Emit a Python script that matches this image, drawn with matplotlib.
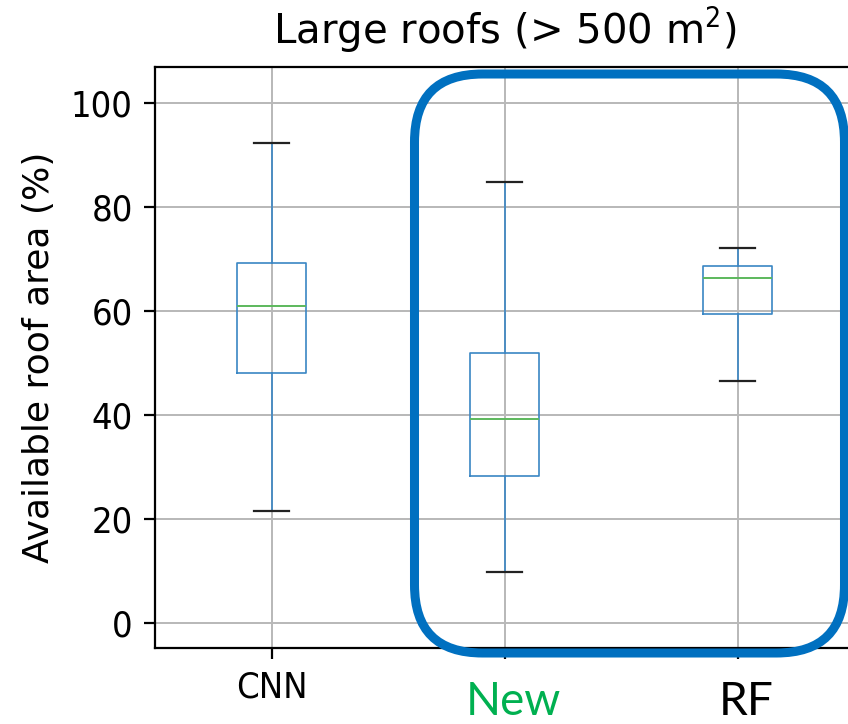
import matplotlib
matplotlib.use("Agg")
import matplotlib.pyplot as plt
from matplotlib.patches import FancyBboxPatch
from matplotlib.transforms import ScaledTranslation

# Box statistics for available roof area on large roofs (%)
categories = ["CNN", "New", "RF"]
whislo = [21.5, 9.8, 46.5]
q1 = [48.1, 28.3, 59.3]
med = [60.8, 39.2, 66.2]
q3 = [69.2, 51.9, 68.5]
whishi = [92.2, 84.8, 72.0]
yticks = [0, 20, 40, 60, 80, 100]

plt.rcParams["font.family"] = ["DejaVu Sans"]
plt.rcParams["font.stretch"] = "condensed"

fig = plt.figure(figsize=(8.48, 7.24), dpi=100)
ax = fig.add_axes([0.1828, 0.1046, 0.8243, 0.8033])

stats = [
    dict(label=c, whislo=lo, q1=a, med=m, q3=b, whishi=hi, fliers=[])
    for c, lo, a, m, b, hi in zip(categories, whislo, q1, med, q3, whishi)
]
ax.bxp(
    stats,
    positions=[1, 2, 3],
    widths=0.3,
    showfliers=False,
    boxprops=dict(color="#3a86c4", linewidth=1.2),
    whiskerprops=dict(color="#3a86c4", linewidth=1.2),
    capprops=dict(color="#222222", linewidth=1.6),
    medianprops=dict(color="#5cb85c", linewidth=1.4),
)

ax.set_xlim(0.5, 3.5)
ax.set_ylim(-4.9, 106.9)
ax.set_yticks(yticks)
ax.grid(True, color="#b8b8b8", linewidth=1.4)
ax.set_axisbelow(True)
for s in ax.spines.values():
    s.set_linewidth(1.6)
ax.tick_params(axis="both", labelsize=26, length=8, width=1.6, pad=8)

ax.set_xticks([1, 2, 3])
ax.set_xticklabels(categories)
labels = ax.get_xticklabels()
shift = ScaledTranslation(0.09, -0.11, fig.dpi_scale_trans)
for lab, col in zip(labels[1:], ["#00b050", "black"]):
    lab.set_color(col)
    lab.set_fontfamily("Lato")
    lab.set_fontstretch("normal")
    lab.set_fontsize(33)
    lab.set_transform(lab.get_transform() + shift)

ax.set_ylabel("Available roof area (%)", fontsize=26, fontstretch="normal",
              labelpad=11)
ax.set_title("Large roofs (> 500 m$^2$)", fontsize=29, fontstretch="normal",
             pad=16)

# Rounded highlight frame around the last two groups
frame = FancyBboxPatch(
    (4.145, 0.71), 4.30, 5.79,
    boxstyle="round,pad=0,rounding_size=0.68",
    transform=fig.dpi_scale_trans,
    facecolor="none", edgecolor="#0070c0", linewidth=6.5,
    zorder=10, clip_on=False,
)
fig.patches.append(frame)

fig.savefig("out.png", dpi=100)
